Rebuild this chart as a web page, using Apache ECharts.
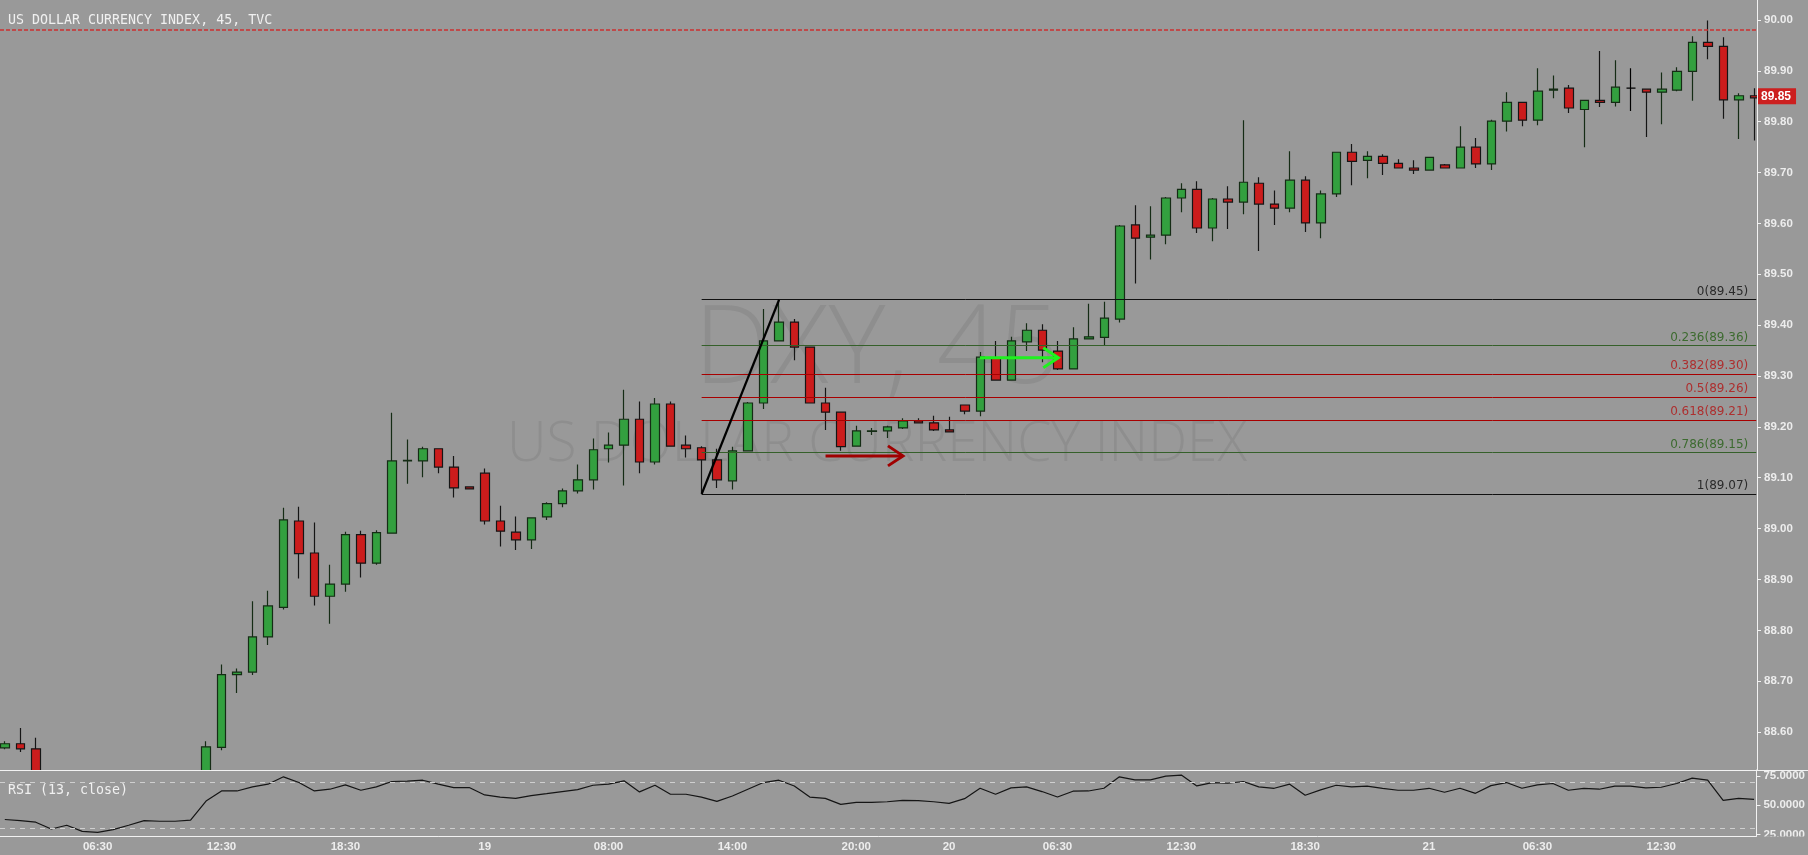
<!DOCTYPE html>
<html><head><meta charset="utf-8">
<script src="https://cdn.jsdelivr.net/npm/echarts@6/dist/echarts.min.js"></script>
<style>html,body{margin:0;padding:0;background:#999999;overflow:hidden}#c{width:1808px;height:855px}</style>
</head><body><div id="c"></div>
<script>
// ---- data ----
const opens  = [88.569,88.577,88.567,88.480,88.440,88.455,88.400,88.385,88.398,88.425,88.465,88.460,88.462,88.468,88.570,88.713,88.718,88.787,88.845,89.015,88.952,88.867,88.891,88.988,88.932,88.991,89.133,89.133,89.157,89.121,89.082,89.109,89.015,88.993,88.978,89.023,89.049,89.074,89.096,89.157,89.164,89.215,89.131,89.245,89.164,89.159,89.135,89.094,89.153,89.247,89.369,89.406,89.357,89.247,89.229,89.162,89.191,89.192,89.198,89.212,89.208,89.194,89.243,89.231,89.335,89.292,89.367,89.390,89.349,89.314,89.373,89.376,89.412,89.597,89.573,89.577,89.650,89.667,89.591,89.648,89.642,89.679,89.638,89.630,89.685,89.601,89.658,89.740,89.724,89.732,89.718,89.709,89.705,89.715,89.709,89.750,89.717,89.801,89.838,89.803,89.862,89.866,89.824,89.842,89.838,89.866,89.864,89.858,89.862,89.899,89.956,89.948,89.843,89.851];
const closes = [88.577,88.567,88.480,88.440,88.455,88.400,88.385,88.398,88.425,88.465,88.460,88.462,88.468,88.571,88.713,88.718,88.787,88.848,89.017,88.951,88.867,88.891,88.988,88.932,88.992,89.133,89.134,89.157,89.121,89.080,89.078,89.015,88.995,88.978,89.021,89.049,89.074,89.096,89.155,89.164,89.215,89.131,89.245,89.162,89.157,89.135,89.096,89.153,89.247,89.369,89.406,89.357,89.247,89.229,89.161,89.192,89.192,89.200,89.212,89.208,89.194,89.190,89.231,89.337,89.292,89.369,89.390,89.351,89.314,89.373,89.377,89.414,89.595,89.571,89.577,89.650,89.667,89.591,89.648,89.642,89.681,89.638,89.630,89.685,89.601,89.658,89.740,89.722,89.732,89.718,89.709,89.705,89.730,89.709,89.750,89.717,89.801,89.838,89.803,89.860,89.864,89.827,89.842,89.838,89.868,89.866,89.858,89.864,89.899,89.956,89.948,89.843,89.851,89.847];
const lows   = [88.566,88.561,88.470,88.430,88.430,88.390,88.370,88.375,88.390,88.420,88.450,88.450,88.455,88.460,88.564,88.677,88.712,88.771,88.841,88.902,88.849,88.813,88.876,88.904,88.929,88.990,89.088,89.101,89.109,89.061,89.077,89.008,88.965,88.958,88.960,89.017,89.042,89.069,89.077,89.130,89.085,89.109,89.126,89.161,89.140,89.069,89.080,89.077,89.152,89.235,89.368,89.331,89.246,89.194,89.153,89.161,89.184,89.178,89.196,89.207,89.192,89.189,89.225,89.221,89.291,89.291,89.349,89.327,89.312,89.313,89.372,89.360,89.405,89.482,89.529,89.559,89.622,89.581,89.565,89.589,89.618,89.546,89.597,89.622,89.583,89.571,89.652,89.675,89.689,89.695,89.708,89.697,89.704,89.708,89.708,89.709,89.705,89.781,89.791,89.793,89.846,89.817,89.750,89.829,89.830,89.821,89.770,89.795,89.860,89.841,89.923,89.806,89.766,89.763];
const highs  = [88.582,88.608,88.589,88.500,88.470,88.470,88.410,88.415,88.435,88.480,88.480,88.475,88.480,88.582,88.733,88.725,88.857,88.878,89.041,89.043,89.012,88.929,88.994,88.996,88.997,89.228,89.175,89.161,89.158,89.143,89.083,89.118,89.045,89.024,89.022,89.052,89.079,89.126,89.177,89.189,89.273,89.250,89.257,89.250,89.183,89.162,89.157,89.161,89.249,89.432,89.451,89.412,89.358,89.277,89.230,89.202,89.198,89.202,89.217,89.217,89.222,89.220,89.244,89.347,89.369,89.377,89.404,89.402,89.369,89.396,89.442,89.446,89.597,89.636,89.634,89.652,89.679,89.683,89.650,89.673,89.803,89.691,89.665,89.742,89.693,89.665,89.741,89.756,89.742,89.736,89.726,89.724,89.731,89.717,89.791,89.768,89.804,89.858,89.839,89.905,89.891,89.872,89.843,89.939,89.921,89.905,89.865,89.897,89.907,89.968,89.999,89.966,89.856,89.866];
const rsiValues = [37.8,36.9,35.5,29.7,32.9,27.7,26.8,29.1,32.9,36.9,36.3,36.3,37.2,53.6,62.2,62.2,65.7,68.0,74.3,69.4,62.2,63.7,67.4,62.8,65.7,70.3,70.6,71.4,68.0,65.1,65.1,58.8,57.0,55.9,58.2,59.9,61.7,63.4,67.1,68.0,70.9,61.4,67.1,59.4,59.4,57.0,53.3,57.9,63.7,69.4,71.4,66.5,57.0,55.9,50.7,52.4,52.4,53.0,54.2,53.9,53.0,51.6,55.6,64.5,59.4,64.8,65.7,61.7,57.0,62.0,62.2,64.5,74.3,71.7,71.7,74.9,75.8,66.5,69.4,68.8,70.3,65.7,64.5,68.0,58.5,63.1,67.1,65.7,66.3,64.5,62.8,62.8,64.5,61.1,64.5,60.2,66.8,69.4,64.5,67.4,68.6,62.8,64.5,63.7,66.3,66.3,64.8,65.4,68.6,73.2,71.4,54.2,55.9,55.0];
const priceTicks = [88.6,88.7,88.8,88.9,89.0,89.1,89.2,89.3,89.4,89.5,89.6,89.7,89.8,89.9,90.0];
const rsiTicks = [25,50,75];
const rsiBands = [70,30];
const xTickIdx  = [6,14,22,31,39,47,55,61,68,76,84,92,99,107];
const xTickText = ['06:30','12:30','18:30','19','08:00','14:00','20:00','20','06:30','12:30','18:30','21','06:30','12:30'];
const fibRatios = [0,0.236,0.382,0.5,0.618,0.786,1];
const fibHigh = 89.450, fibLow = 89.068, fibStartIdx = 45;
const trendStart = [45, 89.068], trendEnd = [50, 89.450];
const alertLevel = 89.978;
const arrowsData = [[53.0, 58.0, 89.143, 0],[62.97, 68.03, 89.336, 1]];
const arrowColors = ['#a00000','#1ef21e'];
const titleText = 'US DOLLAR CURRENCY INDEX, 45, TVC';
const rsiTitle = 'RSI (13, close)';

// ---- build ----
const BG = '#999999';
const n = opens.length;
const candles = opens.map((o,i)=>[i,o,closes[i],lows[i],highs[i]]);
const rsiLine = rsiValues.map((v,i)=>[i,v]);
const lastClose = closes[n-1];
const xMin = -0.31, xMax = n - 1 + 0.15;
const fibColor = r => (r===0||r===1) ? ['#111111','#2a2a2a'] : (r===0.236||r===0.786) ? ['#35602a','#3d6b30'] : ['#a80000','#ad2f2f'];
const fibLines = fibRatios.map(r=>{
  const p = fibHigh - r*(fibHigh-fibLow);
  const c = fibColor(r);
  return [{coord:[fibStartIdx,p], lineStyle:{color:c[0],width:1,type:'solid'},
           label:{show:true,position:'insideEndTop',formatter:r+'('+p.toFixed(2)+')',color:c[1],fontSize:12,fontFamily:'DejaVu Sans',distance:[8,2]}},
          {coord:[xMax-0.05,p]}];
});
const axisTxt = {color:'#ededed',fontWeight:'bold',fontSize:11.5,fontFamily:'Liberation Sans, Arial'};
const axLine = {show:true,onZero:false,lineStyle:{color:'#f2f2f2',width:1}};
const chart = echarts.init(document.getElementById('c'));
chart.setOption({
  animation:false,
  backgroundColor:BG,
  grid:[{left:0,top:0,width:1757,height:770},{left:0,top:770,width:1757,height:66}],
  xAxis:[
    {type:'value',gridIndex:0,min:xMin,max:xMax,show:false},
    {type:'value',gridIndex:1,min:xMin,max:xMax,splitLine:{show:false},z:7,
     axisLine:axLine,axisTick:{show:false},
     axisLabel:Object.assign({customValues:xTickIdx,margin:5,formatter:v=>xTickText[xTickIdx.indexOf(Math.round(v))]||''},axisTxt)}
  ],
  yAxis:[
    {type:'value',gridIndex:0,position:'right',min:88.5254,max:90.0393,splitLine:{show:false},z:7,
     axisLine:axLine,
     axisTick:{show:true,length:4,customValues:priceTicks,lineStyle:{color:'#f2f2f2'}},
     axisLabel:Object.assign({customValues:priceTicks,margin:7,formatter:v=>v.toFixed(2)},axisTxt)},
    {type:'value',gridIndex:1,position:'right',min:23.7,max:80.13,splitLine:{show:false},z:7,
     axisLine:axLine,
     axisTick:{show:true,length:4,customValues:rsiTicks,lineStyle:{color:'#f2f2f2'}},
     axisLabel:Object.assign({customValues:rsiTicks,margin:7,formatter:v=>v.toFixed(4)},axisTxt)}
  ],
  series:[
    {type:'candlestick',xAxisIndex:0,yAxisIndex:0,data:candles,z:2,
     dimensions:['x','open','close','lowest','highest'],
     encode:{x:'x',y:['open','close','lowest','highest']},
     barWidth:9,clip:false,
     itemStyle:{color:'#33a03f',color0:'#cc1c1c',borderColor:'#152c15',borderColor0:'#151515',borderColorDoji:'#000000',borderWidth:1.2},
     markLine:{silent:true,symbol:['none','none'],animation:false,z:5,
       data:[
         ...fibLines,
         [{coord:trendStart,lineStyle:{color:'#000000',width:2.2,type:'solid'},label:{show:false}},{coord:trendEnd}],
         {yAxis:alertLevel,lineStyle:{color:'#cc3030',width:1.6,type:[4,2]},label:{show:false}},
         {yAxis:lastClose,lineStyle:{color:'rgba(0,0,0,0)',width:1,opacity:1},
          label:{show:true,opacity:1,position:'end',distance:0,formatter:()=>lastClose.toFixed(2),color:'#ffffff',backgroundColor:'#cc1f1f',
                 fontWeight:'bold',fontSize:12,fontFamily:'Liberation Sans, Arial',padding:[2,5,2,4]}}
       ]}
    },
    {type:'custom',xAxisIndex:0,yAxisIndex:0,data:arrowsData,z:5,clip:false,
     encode:{x:[0,1],y:2},
     renderItem:(params,api)=>{
       const a = api.coord([api.value(0),api.value(2)]);
       const b = api.coord([api.value(1),api.value(2)]);
       const col = arrowColors[api.value(3)];
       return {type:'group',children:[
         {type:'line',shape:{x1:a[0],y1:a[1],x2:b[0],y2:b[1]},style:{stroke:col,lineWidth:3}},
         {type:'polyline',shape:{points:[[b[0]-15,b[1]-10],[b[0],b[1]],[b[0]-15,b[1]+10]]},style:{stroke:col,lineWidth:3,fill:null}}
       ]};
     }},
    {type:'line',xAxisIndex:1,yAxisIndex:1,data:rsiLine,showSymbol:false,symbol:'none',z:4,
     lineStyle:{color:'#151515',width:1.2},
     markLine:{silent:true,symbol:['none','none'],label:{show:false},
       data:rsiBands.map(v=>({yAxis:v})),lineStyle:{color:'#cfcfcf',width:1,type:[5,5]}}}
  ],
  graphic:[
    {type:'text',z:0,style:{text:'DXY, 45',x:877,y:352,font:'300 108px "Open Sans"',fill:'#8e8e8e',align:'center',verticalAlign:'middle',textAlign:'center',textVerticalAlign:'middle'}},
    {type:'text',z:0,style:{text:'US DOLLAR CURRENCY INDEX',x:877,y:445,font:'300 55px "Open Sans"',fill:'#8e8e8e',align:'center',verticalAlign:'middle',textAlign:'center',textVerticalAlign:'middle'}},
    {type:'rect',z:3,shape:{x:0,y:770.5,width:1808,height:85},style:{fill:BG}},
    {type:'rect',z:3,shape:{x:1757.5,y:0,width:51,height:770},style:{fill:BG}},
    {type:'rect',z:8,shape:{x:1758,y:836.5,width:50,height:19},style:{fill:BG}},
    {type:'text',z:10,style:{text:titleText,x:8,y:21,font:'13.3px "DejaVu Sans Mono"',fill:'#f0f0f0',align:'left',verticalAlign:'middle',textAlign:'left',textVerticalAlign:'middle'}},
    {type:'text',z:10,style:{text:rsiTitle,x:8,y:791,font:'13.3px "DejaVu Sans Mono"',fill:'#f0f0f0',align:'left',verticalAlign:'middle',textAlign:'left',textVerticalAlign:'middle'}},
    {type:'line',z:10,shape:{x1:0,y1:770.5,x2:1808,y2:770.5},style:{stroke:'#f2f2f2',lineWidth:1}}
  ]
});
</script></body></html>
